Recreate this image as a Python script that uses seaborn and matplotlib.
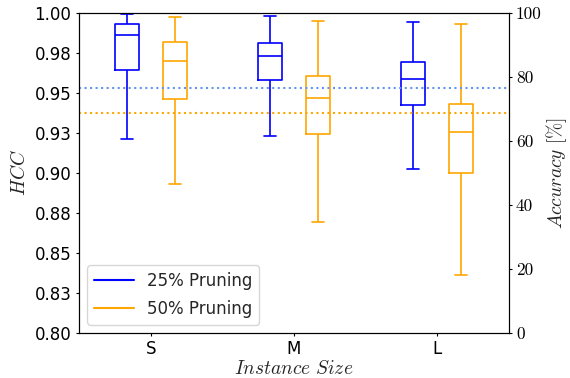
import pandas as pd
import seaborn as sns
import matplotlib
matplotlib.use("Agg")
import matplotlib.pyplot as plt
from matplotlib.lines import Line2D

# five-number summaries (min, q1, median, q3, max)
sizes = ["S", "M", "L"]
hue_names = ["25% Pruning", "50% Pruning"]
p25_S = [0.9214, 0.9642, 0.9864, 0.9930, 0.9994]
p25_M = [0.9233, 0.9581, 0.9729, 0.9814, 0.9980]
p25_L = [0.9023, 0.9425, 0.9586, 0.9696, 0.9946]
p50_S = [0.8930, 0.9463, 0.9702, 0.9819, 0.9975]
p50_M = [0.8694, 0.9242, 0.9467, 0.9608, 0.9950]
p50_L = [0.8363, 0.9002, 0.9258, 0.9429, 0.9931]

# mean accuracy lines [%]
acc_25 = 76.6
acc_50 = 68.8

hcc_ticks = [0.8, 0.825, 0.85, 0.875, 0.9, 0.925, 0.95, 0.975, 1.0]
hcc_labels = ["0.80", "0.83", "0.85", "0.88", "0.90", "0.93", "0.95", "0.98", "1.00"]
acc_ticks = [0, 20, 40, 60, 80, 100]

# long format table for seaborn
rows = []
groups = {("S", hue_names[0]): p25_S, ("M", hue_names[0]): p25_M, ("L", hue_names[0]): p25_L,
          ("S", hue_names[1]): p50_S, ("M", hue_names[1]): p50_M, ("L", hue_names[1]): p50_L}
for (size, name), vals in groups.items():
    for v in vals:
        rows.append({"size": size, "pruning": name, "hcc": v})
df = pd.DataFrame(rows)

sns.set_style("ticks", {"axes.edgecolor": "black", "xtick.color": "black", "ytick.color": "black"})
plt.rcParams["mathtext.fontset"] = "cm"
plt.rcParams["font.family"] = ["DejaVu Sans"]
plt.rcParams["xtick.major.size"] = 2.5
plt.rcParams["ytick.major.size"] = 2.5
plt.rcParams["xtick.major.pad"] = 2.5
plt.rcParams["ytick.major.pad"] = 3.0

colors = {hue_names[0]: "blue", hue_names[1]: "orange"}

fig = plt.figure(figsize=(5.7, 3.78), dpi=100)
ax = fig.add_axes([0.1386, 0.119, 0.7544, 0.8466])
sns.boxplot(data=df, x="size", y="hcc", hue="pruning", order=sizes, hue_order=hue_names,
            palette=colors, fill=False, whis=(0, 100), width=0.67, gap=0.5,
            linewidth=1.2, legend=False, ax=ax)
ax.set_ylim(0.8, 1.0)
ax.set_yticks(hcc_ticks)
ax.set_yticklabels(hcc_labels, fontsize=12)
ax.tick_params(axis="x", labelsize=12)
ax.set_xlabel(r"$Instance\ Size$", fontsize=14, labelpad=1)
ax.set_ylabel(r"$HCC$", fontsize=14)

ax2 = ax.twinx()
ax2.set_ylim(0, 100)
ax2.set_yticks(acc_ticks)
ax2.set_yticklabels([str(t) for t in acc_ticks], fontsize=12.5, fontfamily="cmr10")
ax2.tick_params(axis="y", pad=2.5)
ax2.set_ylabel(r"$Accuracy\ [\%]$", fontsize=14, labelpad=2)
ax2.axhline(acc_25, color="cornflowerblue", ls=":", lw=1.5)
ax2.axhline(acc_50, color="orange", ls=":", lw=1.5)

handles = [Line2D([], [], color=colors[n], lw=1.5) for n in hue_names]
ax.legend(handles, hue_names, loc="lower left", fontsize=12, handlelength=2.4, labelspacing=0.6)

fig.savefig("out.png", dpi=100)
